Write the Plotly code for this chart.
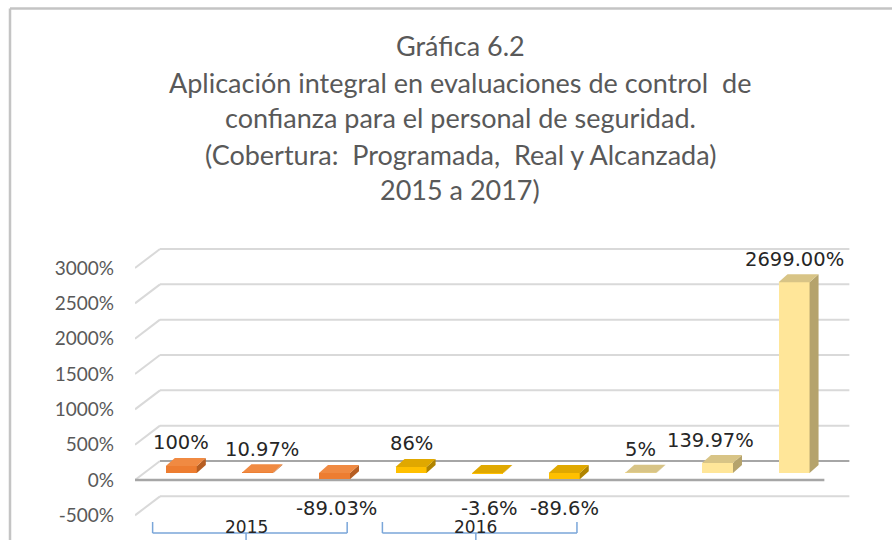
import plotly.graph_objects as go

# ---------------- data ----------------
years = ["2015", "2016", "2017"]
measures = ["Programada", "Real", "Alcanzada"]
values = [100, 10.97, -89.03, 86, -3.6, -89.6, 5, 139.97, 2699.00]
value_labels = ["100%", "10.97%", "-89.03%", "86%", "-3.6%", "-89.6%", "5%", "139.97%", "2699.00%"]
tick_values = [-500, 0, 500, 1000, 1500, 2000, 2500, 3000]
tick_labels = ["-500%", "0%", "500%", "1000%", "1500%", "2000%", "2500%", "3000%"]
title_lines = [
    "Gráfica 6.2",
    "Aplicación integral en evaluaciones de control  de",
    "confianza para el personal de seguridad.",
    "(Cobertura:  Programada,  Real y Alcanzada)",
    "2015 a 2017)",
]

# ---------------- styles ----------------
year_front = {"2015": "#ED7D31", "2016": "#FFC000", "2017": "#FFE699"}
year_top = {"2015": "#F08A42", "2016": "#E0A800", "2017": "#D8C486"}
year_side = {"2015": "#B65E22", "2016": "#B08400", "2017": "#B5A36C"}
label_xshift = [0, 4, 2, 0, 2, 0, 0, -7, 0]

W, H = 892, 540
ML, MR, MT, MB = 135, 37, 240, 0
PW, PH = W - ML - MR, H - MT - MB
XR = [-0.5, 8.9]
PX_CAT = PW / (XR[1] - XR[0])
K = 212 / 3000.0                      # px per unit
YR = [-(H - MB - 480) / K, (480 - MT) / K]

DXF, DYF = 25 / PX_CAT, 19 / K        # full floor depth
OX, OB = 8 / PX_CAT, 7 / K            # bar placement inside depth
DDX, DDY = 9 / PX_CAT, 8 / K          # bar depth
BW = 31 / PX_CAT

def px(x):
    return (x - ML) / PW

def py(y):
    return (H - MB - y) / PH

n = len(values)
xs = list(range(n))
bar_years = [years[i // 3] for i in xs]
bar_names = [measures[i % 3] + " " + bar_years[i] for i in xs]

fig = go.Figure()

# front faces
fig.add_trace(go.Bar(
    x=[i + OX for i in xs], y=values, base=[OB] * n, width=BW,
    marker=dict(color=[year_front[y] for y in bar_years], line=dict(width=0)),
    hovertext=bar_names, showlegend=False,
))

# side and top faces
for i in xs:
    v = values[i]
    xl = i + OX - BW / 2
    xr = i + OX + BW / 2
    top = OB + max(v, 0)
    bot = OB + min(v, 0)
    fig.add_trace(go.Scatter(
        x=[xr, xr, xr + DDX, xr + DDX, xr],
        y=[bot, top, top + DDY, bot + DDY, bot],
        fill="toself", fillcolor=year_side[bar_years[i]], mode="lines",
        line=dict(width=0), hoverinfo="skip", showlegend=False,
    ))
    fig.add_trace(go.Scatter(
        x=[xl, xr, xr + DDX, xl + DDX, xl],
        y=[top, top, top + DDY, top + DDY, top],
        fill="toself", fillcolor=year_top[bar_years[i]], mode="lines",
        line=dict(width=0), hoverinfo="skip", showlegend=False,
    ))

shapes = []
# gridlines (3D wall) from tick values
for v in tick_values:
    col = "#A6A6A6" if v == 0 else "#D9D9D9"
    shapes.append(dict(type="line", xref="x", yref="y", x0=-0.5, y0=v,
                       x1=-0.5 + DXF, y1=v + DYF, line=dict(color="#D9D9D9", width=2), layer="below"))
    shapes.append(dict(type="line", xref="x", yref="y", x0=-0.5 + DXF, y0=v + DYF,
                       x1=n - 0.5 + DXF, y1=v + DYF, line=dict(color=col, width=2), layer="below"))
shapes.append(dict(type="line", xref="x", yref="y", x0=-0.5, y0=0, x1=n - 0.5, y1=0,
                   line=dict(color="#A6A6A6", width=2.5), layer="below"))

# group brackets
annotations = []
for g, yr in enumerate(years[:2]):
    c = g * 3 + 1
    a, b = c - 1.27, c + 1.27
    yb = -(533 - 480) / K
    ye = -(522 - 480) / K
    bc = "#7AA6D9"
    shapes += [
        dict(type="line", xref="x", yref="y", x0=a, y0=yb, x1=b, y1=yb, line=dict(color=bc, width=1.5)),
        dict(type="line", xref="x", yref="y", x0=a, y0=yb, x1=a, y1=ye, line=dict(color=bc, width=1.5)),
        dict(type="line", xref="x", yref="y", x0=b, y0=yb, x1=b, y1=ye, line=dict(color=bc, width=1.5)),
        dict(type="line", xref="x", yref="y", x0=c - 0.05, y0=yb, x1=c - 0.05, y1=YR[0], line=dict(color=bc, width=1.5)),
    ]
    annotations.append(dict(x=c - 0.05, y=yb, xref="x", yref="y", text=yr, showarrow=False,
                            yanchor="middle", yshift=6,
                            font=dict(family="DejaVu Sans", size=17, color="#262626")))

# outer border (top and left)
shapes.append(dict(type="line", xref="paper", yref="paper", x0=px(10), y0=py(8.5), x1=px(W), y1=py(8.5),
                   line=dict(color="#C4C4C4", width=2.5)))
shapes.append(dict(type="line", xref="paper", yref="paper", x0=px(10), y0=py(8.5), x1=px(10), y1=py(H),
                   line=dict(color="#C4C4C4", width=2.5)))

# data labels: positive above the bar top, negative below the floor
for i in xs:
    v = values[i]
    if v >= 0:
        ly, ys = v, 30
    else:
        ly, ys = 0, -28
    annotations.append(dict(x=i + OX, y=ly, xref="x", yref="y", text=value_labels[i], showarrow=False,
                            yanchor="middle", yshift=ys, xshift=label_xshift[i],
                            font=dict(family="DejaVu Sans", size=19.5, color="#262626")))

# title
title_y = [45, 82, 118, 155, 190]
for t, yy in zip(title_lines, title_y):
    annotations.append(dict(x=px(460), y=py(yy), xref="paper", yref="paper", text=t, showarrow=False,
                            xanchor="center", yanchor="middle",
                            font=dict(family="Lato", size=27, color="#595959")))

fig.update_layout(
    width=W, height=H,
    margin=dict(l=ML, r=MR, t=MT, b=MB, pad=0),
    paper_bgcolor="white", plot_bgcolor="white",
    xaxis=dict(range=XR, visible=False, showgrid=False, zeroline=False),
    yaxis=dict(range=YR, tickvals=tick_values, ticktext=tick_labels, showgrid=False, zeroline=False,
               showline=False, ticks="", ticklabelstandoff=20,
               tickfont=dict(family="Lato", size=19, color="#595959")),
    shapes=shapes, annotations=annotations,
    showlegend=False, bargap=0,
)

fig.write_html("out.html", config={"displayModeBar": False},
               post_script="document.body.style.margin='0';")
